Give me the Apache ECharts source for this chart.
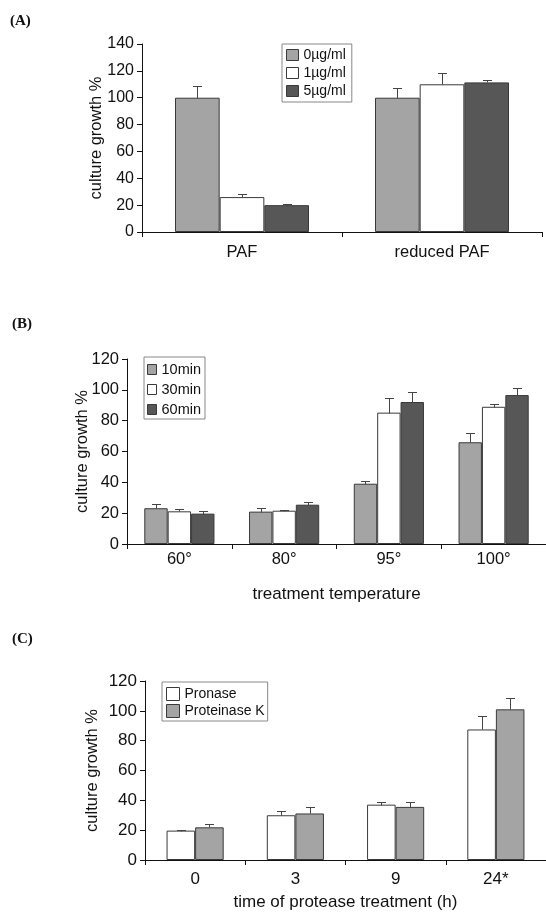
<!DOCTYPE html>
<html>
<head>
<meta charset="utf-8">
<script src="https://cdn.jsdelivr.net/npm/echarts@6/dist/echarts.min.js"></script>
<style>
html,body{margin:0;padding:0;background:#fff;}
#chart{width:546px;height:912px;}
</style>
</head>
<body>
<div id="chart"></div>
<script>
// ---------- Data ----------
// Panel A
const catsA = ['PAF', 'reduced PAF'];
const seriesNamesA = ['0µg/ml', '1µg/ml', '5µg/ml'];
const a0 = [100, 100];
const a0sd = [8.7, 7];
const a1 = [26, 110];
const a1sd = [2.5, 8.6];
const a5 = [20, 111.4];
const a5sd = [1, 1.5];
const ticksA = [0, 20, 40, 60, 80, 100, 120, 140];

// Panel B
const catsB = ['60°', '80°', '95°', '100°'];
const seriesNamesB = ['10min', '30min', '60min'];
const b10 = [23.2, 21, 39.1, 66];
const b10sd = [2.9, 2.2, 1.9, 6.2];
const b30 = [21.2, 21.6, 85.2, 89];
const b30sd = [1.5, 0.2, 9.3, 1.8];
const b60 = [19.7, 25.5, 92.1, 96.6];
const b60sd = [1.9, 1.5, 6.5, 4.6];
const ticksB = [0, 20, 40, 60, 80, 100, 120];

// Panel C
const catsC = ['0', '3', '9', '24*'];
const seriesNamesC = ['Pronase', 'Proteinase K'];
const pronase = [19.7, 30, 37.1, 87.5];
const pronaseSd = [0.3, 3, 1.6, 8.9];
const protK = [21.9, 31.2, 35.6, 101];
const protKSd = [2.2, 4.4, 3.3, 7.3];
const ticksC = [0, 20, 40, 60, 80, 100, 120];

// ---------- Styling ----------
const FONT = '"Liberation Sans", Arial, sans-serif';
const LIGHT = '#a4a4a4';
const WHITE = '#ffffff';
const DARK = '#575757';
const EDGE = '#3a3a3a';

function errRender(idx, n, gap) {
  return function (params, api) {
    const cat = api.value(0), v = api.value(1), top = api.value(2);
    const p0 = api.coord([cat, v]);
    const p1 = api.coord([cat, top]);
    const catW = api.size([1, 0])[0];
    const bw = catW * (1 - gap) / n;
    const x = Math.round(p0[0] + (idx - (n - 1) / 2) * bw) + 0.5;
    const yb = Math.round(p0[1]) + 0.5, yt = Math.round(p1[1]) + 0.5;
    return {
      type: 'group',
      children: [
        { type: 'line', shape: { x1: x, y1: yb, x2: x, y2: yt }, style: { stroke: '#444', lineWidth: 1 } },
        { type: 'line', shape: { x1: x - 4.5, y1: yt, x2: x + 4.5, y2: yt }, style: { stroke: '#444', lineWidth: 1 } }
      ]
    };
  };
}

function barSeries(name, data, color, axisIdx, gapPct) {
  return {
    type: 'bar', name: name, data: data,
    xAxisIndex: axisIdx, yAxisIndex: axisIdx,
    barGap: '0%', barCategoryGap: gapPct + '%',
    itemStyle: { color: color, borderColor: EDGE, borderWidth: 1 },
    emphasis: { disabled: true },
    z: 2
  };
}

function errSeries(vals, sds, idx, n, axisIdx, gapPct) {
  return {
    type: 'custom',
    xAxisIndex: axisIdx, yAxisIndex: axisIdx,
    renderItem: errRender(idx, n, gapPct / 100),
    encode: { x: 0, y: 2 },
    data: vals.map((v, i) => [i, v, v + sds[i]]),
    z: 3, silent: true
  };
}

function yAx(gridIndex, max, ticks, fs, gap) {
  return {
    type: 'value', gridIndex: gridIndex, min: 0, max: max, interval: ticks[1] - ticks[0],
    name: 'culture growth %', nameLocation: 'middle', nameGap: gap, nameRotate: 90,
    nameMoveOverlap: false,
    nameTextStyle: { fontFamily: FONT, fontSize: 16.5, color: '#111' },
    axisLine: { show: true, lineStyle: { color: '#111', width: 1 } },
    axisTick: { show: true, length: 5, lineStyle: { color: '#111' } },
    axisLabel: { fontFamily: FONT, fontSize: fs, color: '#111', margin: 8 },
    splitLine: { show: false }
  };
}

function xAx(gridIndex, cats, fs, margin, name, nameGap) {
  return {
    type: 'category', gridIndex: gridIndex, data: cats,
    name: name || '', nameLocation: 'middle', nameGap: nameGap || 30,
    nameMoveOverlap: false,
    nameTextStyle: { fontFamily: FONT, fontSize: 17, color: '#111' },
    axisLine: { show: true, lineStyle: { color: '#111', width: 1 } },
    axisTick: { show: true, length: 5, lineStyle: { color: '#111' } },
    axisLabel: { fontFamily: FONT, fontSize: fs, color: '#111', margin: margin }
  };
}

function legendBox(gridIndex, names, left, top, w, h, fs, gap, pad) {
  return {
    data: names, orient: 'vertical', left: left, top: top,
    icon: 'rect', itemWidth: w, itemHeight: h, itemGap: gap,
    padding: pad, borderColor: '#888', borderWidth: 1,
    textStyle: { fontFamily: FONT, fontSize: fs, color: '#111' },
    itemStyle: { borderColor: EDGE, borderWidth: 1 },
    selectedMode: false
  };
}

const titleStyle = { fontFamily: '"Liberation Serif", "Times New Roman", serif', fontWeight: 'bold', fontSize: 15, color: '#111' };

const GAP_A = 33, GAP_B = 33, GAP_C = 43;

const option = {
  backgroundColor: '#fff',
  animation: false,
  title: [
    { text: '(A)', left: 10, top: 14, padding: 0, textStyle: titleStyle },
    { text: '(B)', left: 12, top: 317, padding: 0, textStyle: titleStyle },
    { text: '(C)', left: 12, top: 632, padding: 0, textStyle: titleStyle }
  ],
  grid: [
    { left: 142, top: 44, width: 400, height: 188 },
    { left: 127, top: 359, width: 427, height: 185 },
    { left: 145, top: 681, width: 401, height: 181 }
  ],
  xAxis: [
    xAx(0, catsA, 16.5, 12),
    xAx(1, catsB, 16.5, 7, 'treatment temperature', 42),
    xAx(2, catsC, 17, 11, 'time of protease treatment (h)', 34)
  ],
  yAxis: [
    yAx(0, 140, ticksA, 16, 37),
    yAx(1, 120, ticksB, 16.5, 36),
    yAx(2, 120, ticksC, 17, 44)
  ],
  legend: [
    legendBox(0, seriesNamesA, 282, 44, 12, 11, 14, 4, [4, 6, 4, 4]),
    legendBox(1, seriesNamesB, 144, 357, 9, 10, 14.5, 5, [5, 4, 2, 3]),
    legendBox(2, seriesNamesC, 162, 682, 13, 13, 14, 3, [5, 3, 3, 4])
  ],
  series: [
    barSeries(seriesNamesA[0], a0, LIGHT, 0, GAP_A),
    barSeries(seriesNamesA[1], a1, WHITE, 0, GAP_A),
    barSeries(seriesNamesA[2], a5, DARK, 0, GAP_A),
    errSeries(a0, a0sd, 0, 3, 0, GAP_A),
    errSeries(a1, a1sd, 1, 3, 0, GAP_A),
    errSeries(a5, a5sd, 2, 3, 0, GAP_A),

    barSeries(seriesNamesB[0], b10, LIGHT, 1, GAP_B),
    barSeries(seriesNamesB[1], b30, WHITE, 1, GAP_B),
    barSeries(seriesNamesB[2], b60, DARK, 1, GAP_B),
    errSeries(b10, b10sd, 0, 3, 1, GAP_B),
    errSeries(b30, b30sd, 1, 3, 1, GAP_B),
    errSeries(b60, b60sd, 2, 3, 1, GAP_B),

    barSeries(seriesNamesC[0], pronase, WHITE, 2, GAP_C),
    barSeries(seriesNamesC[1], protK, LIGHT, 2, GAP_C),
    errSeries(pronase, pronaseSd, 0, 2, 2, GAP_C),
    errSeries(protK, protKSd, 1, 2, 2, GAP_C)
  ]
};

const chart = echarts.init(document.getElementById('chart'), null, { renderer: 'canvas' });
chart.setOption(option);
</script>
</body>
</html>
